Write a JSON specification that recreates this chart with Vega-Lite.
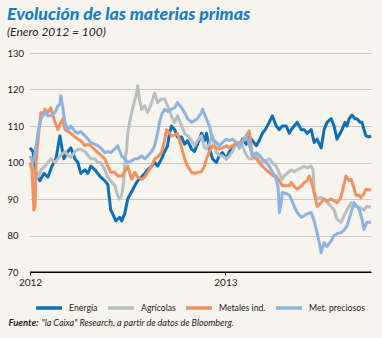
{
"$schema": "https://vega.github.io/schema/vega-lite/v6.json",
"width": 341, "height": 219,
"autosize": "none",
"padding": {"left": 30, "top": 53, "right": 11, "bottom": 66},
"background": "#f7f4ed",
"config": {"view": {"stroke": null}, "font": "Lato"},
"title": {"text": "Evolución de las materias primas", "subtitle": "(Enero 2012 = 100)", "anchor": "start", "frame": "bounds", "offset": 10, "font": "Lato", "fontSize": 17.7, "fontWeight": 900, "fontStyle": "italic", "color": "#1a7fc5", "subtitleFont": "Lato", "subtitleFontSize": 12, "subtitleFontStyle": "italic", "subtitleColor": "#222222", "subtitlePadding": 3},
"layer": [
{
"data": {"values": [
{"serie":"Energía","t":2012.000,"v":104},{"serie":"Energía","t":2012.015,"v":103},{"serie":"Energía","t":2012.031,"v":97},{"serie":"Energía","t":2012.051,"v":95},{"serie":"Energía","t":2012.071,"v":97},{"serie":"Energía","t":2012.092,"v":96},{"serie":"Energía","t":2012.112,"v":99},{"serie":"Energía","t":2012.133,"v":101},{"serie":"Energía","t":2012.153,"v":107.3},{"serie":"Energía","t":2012.173,"v":101},{"serie":"Energía","t":2012.194,"v":103},{"serie":"Energía","t":2012.209,"v":104},{"serie":"Energía","t":2012.230,"v":101},{"serie":"Energía","t":2012.245,"v":100},{"serie":"Energía","t":2012.260,"v":97},{"serie":"Energía","t":2012.281,"v":98},{"serie":"Energía","t":2012.296,"v":97},{"serie":"Energía","t":2012.311,"v":99},{"serie":"Energía","t":2012.332,"v":98},{"serie":"Energía","t":2012.347,"v":97},{"serie":"Energía","t":2012.362,"v":96},{"serie":"Energía","t":2012.383,"v":95},{"serie":"Energía","t":2012.398,"v":94},{"serie":"Energía","t":2012.413,"v":87},{"serie":"Energía","t":2012.423,"v":86},{"serie":"Energía","t":2012.439,"v":84},{"serie":"Energía","t":2012.459,"v":85},{"serie":"Energía","t":2012.469,"v":84},{"serie":"Energía","t":2012.485,"v":86},{"serie":"Energía","t":2012.500,"v":90},{"serie":"Energía","t":2012.520,"v":92},{"serie":"Energía","t":2012.536,"v":93.6},{"serie":"Energía","t":2012.551,"v":95},{"serie":"Energía","t":2012.571,"v":96},{"serie":"Energía","t":2012.587,"v":97},{"serie":"Energía","t":2012.602,"v":98},{"serie":"Energía","t":2012.622,"v":99},{"serie":"Energía","t":2012.638,"v":100},{"serie":"Energía","t":2012.653,"v":99},{"serie":"Energía","t":2012.673,"v":101},{"serie":"Energía","t":2012.689,"v":103},{"serie":"Energía","t":2012.704,"v":104.6},{"serie":"Energía","t":2012.714,"v":108},{"serie":"Energía","t":2012.724,"v":110},{"serie":"Energía","t":2012.740,"v":109},{"serie":"Energía","t":2012.755,"v":107},{"serie":"Energía","t":2012.776,"v":107},{"serie":"Energía","t":2012.791,"v":105},{"serie":"Energía","t":2012.806,"v":106},{"serie":"Energía","t":2012.827,"v":103.7},{"serie":"Energía","t":2012.842,"v":103},{"serie":"Energía","t":2012.857,"v":105},{"serie":"Energía","t":2012.878,"v":108},{"serie":"Energía","t":2012.893,"v":106},{"serie":"Energía","t":2012.903,"v":108},{"serie":"Energía","t":2012.918,"v":104},{"serie":"Energía","t":2012.934,"v":101},{"serie":"Energía","t":2012.954,"v":100},{"serie":"Energía","t":2012.969,"v":102},{"serie":"Energía","t":2012.985,"v":102.7},{"serie":"Energía","t":2013.005,"v":101},{"serie":"Energía","t":2013.020,"v":103},{"serie":"Energía","t":2013.036,"v":104},{"serie":"Energía","t":2013.056,"v":105.5},{"serie":"Energía","t":2013.071,"v":104},{"serie":"Energía","t":2013.087,"v":106.4},{"serie":"Energía","t":2013.107,"v":105},{"serie":"Energía","t":2013.122,"v":107},{"serie":"Energía","t":2013.138,"v":106},{"serie":"Energía","t":2013.158,"v":104.6},{"serie":"Energía","t":2013.173,"v":106},{"serie":"Energía","t":2013.189,"v":108},{"serie":"Energía","t":2013.204,"v":109},{"serie":"Energía","t":2013.224,"v":111},{"serie":"Energía","t":2013.240,"v":112.8},{"serie":"Energía","t":2013.260,"v":110},{"serie":"Energía","t":2013.276,"v":109},{"serie":"Energía","t":2013.291,"v":110},{"serie":"Energía","t":2013.311,"v":110},{"serie":"Energía","t":2013.327,"v":108},{"serie":"Energía","t":2013.337,"v":109},{"serie":"Energía","t":2013.352,"v":110},{"serie":"Energía","t":2013.367,"v":111},{"serie":"Energía","t":2013.388,"v":109},{"serie":"Energía","t":2013.403,"v":109},{"serie":"Energía","t":2013.418,"v":108},{"serie":"Energía","t":2013.439,"v":109},{"serie":"Energía","t":2013.454,"v":105.5},{"serie":"Energía","t":2013.469,"v":106.4},{"serie":"Energía","t":2013.490,"v":104},{"serie":"Energía","t":2013.505,"v":109},{"serie":"Energía","t":2013.520,"v":111},{"serie":"Energía","t":2013.541,"v":112},{"serie":"Energía","t":2013.556,"v":110},{"serie":"Energía","t":2013.571,"v":106.4},{"serie":"Energía","t":2013.587,"v":108},{"serie":"Energía","t":2013.597,"v":109},{"serie":"Energía","t":2013.612,"v":111},{"serie":"Energía","t":2013.622,"v":110},{"serie":"Energía","t":2013.633,"v":112},{"serie":"Energía","t":2013.648,"v":113},{"serie":"Energía","t":2013.663,"v":112},{"serie":"Energía","t":2013.673,"v":112},{"serie":"Energía","t":2013.689,"v":111},{"serie":"Energía","t":2013.699,"v":111},{"serie":"Energía","t":2013.709,"v":109},{"serie":"Energía","t":2013.719,"v":107.3},{"serie":"Energía","t":2013.735,"v":107},{"serie":"Energía","t":2013.745,"v":107.3},
{"serie":"Agrícolas","t":2012.000,"v":100},{"serie":"Agrícolas","t":2012.015,"v":98},{"serie":"Agrícolas","t":2012.031,"v":97},{"serie":"Agrícolas","t":2012.041,"v":96},{"serie":"Agrícolas","t":2012.056,"v":98},{"serie":"Agrícolas","t":2012.077,"v":99},{"serie":"Agrícolas","t":2012.092,"v":100},{"serie":"Agrícolas","t":2012.107,"v":101},{"serie":"Agrícolas","t":2012.128,"v":100},{"serie":"Agrícolas","t":2012.143,"v":101},{"serie":"Agrícolas","t":2012.158,"v":102},{"serie":"Agrícolas","t":2012.179,"v":103},{"serie":"Agrícolas","t":2012.194,"v":102},{"serie":"Agrícolas","t":2012.209,"v":101.4},{"serie":"Agrícolas","t":2012.230,"v":103},{"serie":"Agrícolas","t":2012.245,"v":103.6},{"serie":"Agrícolas","t":2012.260,"v":103.6},{"serie":"Agrícolas","t":2012.281,"v":103},{"serie":"Agrícolas","t":2012.296,"v":102},{"serie":"Agrícolas","t":2012.311,"v":101},{"serie":"Agrícolas","t":2012.332,"v":101},{"serie":"Agrícolas","t":2012.347,"v":100},{"serie":"Agrícolas","t":2012.362,"v":100},{"serie":"Agrícolas","t":2012.383,"v":98},{"serie":"Agrícolas","t":2012.398,"v":96},{"serie":"Agrícolas","t":2012.413,"v":95},{"serie":"Agrícolas","t":2012.434,"v":93.6},{"serie":"Agrícolas","t":2012.449,"v":91},{"serie":"Agrícolas","t":2012.459,"v":90},{"serie":"Agrícolas","t":2012.469,"v":91},{"serie":"Agrícolas","t":2012.480,"v":95},{"serie":"Agrícolas","t":2012.485,"v":100},{"serie":"Agrícolas","t":2012.495,"v":104},{"serie":"Agrícolas","t":2012.500,"v":108},{"serie":"Agrícolas","t":2012.510,"v":111},{"serie":"Agrícolas","t":2012.520,"v":113.7},{"serie":"Agrícolas","t":2012.536,"v":117},{"serie":"Agrícolas","t":2012.546,"v":119},{"serie":"Agrícolas","t":2012.551,"v":121},{"serie":"Agrícolas","t":2012.561,"v":117},{"serie":"Agrícolas","t":2012.571,"v":114.6},{"serie":"Agrícolas","t":2012.587,"v":115.5},{"serie":"Agrícolas","t":2012.602,"v":113.7},{"serie":"Agrícolas","t":2012.612,"v":115},{"serie":"Agrícolas","t":2012.622,"v":116.4},{"serie":"Agrícolas","t":2012.638,"v":119},{"serie":"Agrícolas","t":2012.653,"v":116.4},{"serie":"Agrícolas","t":2012.663,"v":117},{"serie":"Agrícolas","t":2012.673,"v":117.4},{"serie":"Agrícolas","t":2012.689,"v":117.4},{"serie":"Agrícolas","t":2012.704,"v":115.5},{"serie":"Agrícolas","t":2012.724,"v":112.8},{"serie":"Agrícolas","t":2012.740,"v":111},{"serie":"Agrícolas","t":2012.755,"v":112.8},{"serie":"Agrícolas","t":2012.776,"v":110},{"serie":"Agrícolas","t":2012.791,"v":108},{"serie":"Agrícolas","t":2012.806,"v":107.3},{"serie":"Agrícolas","t":2012.827,"v":106},{"serie":"Agrícolas","t":2012.842,"v":104.6},{"serie":"Agrícolas","t":2012.857,"v":106},{"serie":"Agrícolas","t":2012.878,"v":107.3},{"serie":"Agrícolas","t":2012.893,"v":104},{"serie":"Agrícolas","t":2012.903,"v":103.7},{"serie":"Agrícolas","t":2012.918,"v":105},{"serie":"Agrícolas","t":2012.934,"v":107.3},{"serie":"Agrícolas","t":2012.954,"v":102.7},{"serie":"Agrícolas","t":2012.969,"v":102},{"serie":"Agrícolas","t":2012.985,"v":101.8},{"serie":"Agrícolas","t":2013.005,"v":101},{"serie":"Agrícolas","t":2013.020,"v":101.8},{"serie":"Agrícolas","t":2013.036,"v":103},{"serie":"Agrícolas","t":2013.056,"v":105.5},{"serie":"Agrícolas","t":2013.071,"v":104},{"serie":"Agrícolas","t":2013.087,"v":104.6},{"serie":"Agrícolas","t":2013.107,"v":102},{"serie":"Agrícolas","t":2013.122,"v":101},{"serie":"Agrícolas","t":2013.138,"v":101},{"serie":"Agrícolas","t":2013.158,"v":101.8},{"serie":"Agrícolas","t":2013.173,"v":100.5},{"serie":"Agrícolas","t":2013.189,"v":100},{"serie":"Agrícolas","t":2013.209,"v":100.5},{"serie":"Agrícolas","t":2013.224,"v":101},{"serie":"Agrícolas","t":2013.240,"v":100},{"serie":"Agrícolas","t":2013.260,"v":99},{"serie":"Agrícolas","t":2013.276,"v":97},{"serie":"Agrícolas","t":2013.291,"v":95.4},{"serie":"Agrícolas","t":2013.301,"v":96.3},{"serie":"Agrícolas","t":2013.316,"v":97},{"serie":"Agrícolas","t":2013.337,"v":98},{"serie":"Agrícolas","t":2013.352,"v":97.5},{"serie":"Agrícolas","t":2013.367,"v":98},{"serie":"Agrícolas","t":2013.388,"v":98.5},{"serie":"Agrícolas","t":2013.403,"v":99},{"serie":"Agrícolas","t":2013.418,"v":98.5},{"serie":"Agrícolas","t":2013.439,"v":99},{"serie":"Agrícolas","t":2013.449,"v":98},{"serie":"Agrícolas","t":2013.454,"v":91.8},{"serie":"Agrícolas","t":2013.469,"v":90},{"serie":"Agrícolas","t":2013.490,"v":90.5},{"serie":"Agrícolas","t":2013.505,"v":90},{"serie":"Agrícolas","t":2013.520,"v":89},{"serie":"Agrícolas","t":2013.541,"v":88},{"serie":"Agrícolas","t":2013.556,"v":87},{"serie":"Agrícolas","t":2013.571,"v":84.5},{"serie":"Agrícolas","t":2013.592,"v":83.6},{"serie":"Agrícolas","t":2013.607,"v":85.4},{"serie":"Agrícolas","t":2013.622,"v":87},{"serie":"Agrícolas","t":2013.643,"v":89},{"serie":"Agrícolas","t":2013.658,"v":88},{"serie":"Agrícolas","t":2013.673,"v":88},{"serie":"Agrícolas","t":2013.694,"v":87.5},{"serie":"Agrícolas","t":2013.709,"v":87},{"serie":"Agrícolas","t":2013.724,"v":88},{"serie":"Agrícolas","t":2013.745,"v":87.7},
{"serie":"Metales ind.","t":2012.000,"v":100},{"serie":"Metales ind.","t":2012.010,"v":98},{"serie":"Metales ind.","t":2012.020,"v":87},{"serie":"Metales ind.","t":2012.026,"v":88},{"serie":"Metales ind.","t":2012.031,"v":100},{"serie":"Metales ind.","t":2012.041,"v":106},{"serie":"Metales ind.","t":2012.056,"v":113.7},{"serie":"Metales ind.","t":2012.066,"v":113},{"serie":"Metales ind.","t":2012.077,"v":114.6},{"serie":"Metales ind.","t":2012.092,"v":113.7},{"serie":"Metales ind.","t":2012.107,"v":115},{"serie":"Metales ind.","t":2012.117,"v":113},{"serie":"Metales ind.","t":2012.128,"v":111},{"serie":"Metales ind.","t":2012.143,"v":109},{"serie":"Metales ind.","t":2012.158,"v":111},{"serie":"Metales ind.","t":2012.168,"v":112},{"serie":"Metales ind.","t":2012.179,"v":109},{"serie":"Metales ind.","t":2012.194,"v":108.5},{"serie":"Metales ind.","t":2012.209,"v":108},{"serie":"Metales ind.","t":2012.230,"v":107},{"serie":"Metales ind.","t":2012.245,"v":106.4},{"serie":"Metales ind.","t":2012.260,"v":106},{"serie":"Metales ind.","t":2012.281,"v":104.6},{"serie":"Metales ind.","t":2012.296,"v":105},{"serie":"Metales ind.","t":2012.311,"v":104.6},{"serie":"Metales ind.","t":2012.332,"v":103.5},{"serie":"Metales ind.","t":2012.347,"v":102.7},{"serie":"Metales ind.","t":2012.362,"v":102},{"serie":"Metales ind.","t":2012.383,"v":101},{"serie":"Metales ind.","t":2012.398,"v":99},{"serie":"Metales ind.","t":2012.413,"v":97.3},{"serie":"Metales ind.","t":2012.434,"v":97.3},{"serie":"Metales ind.","t":2012.449,"v":96.3},{"serie":"Metales ind.","t":2012.469,"v":96.3},{"serie":"Metales ind.","t":2012.485,"v":97.5},{"serie":"Metales ind.","t":2012.500,"v":99},{"serie":"Metales ind.","t":2012.520,"v":95.4},{"serie":"Metales ind.","t":2012.536,"v":97.3},{"serie":"Metales ind.","t":2012.551,"v":96},{"serie":"Metales ind.","t":2012.571,"v":95.4},{"serie":"Metales ind.","t":2012.587,"v":96},{"serie":"Metales ind.","t":2012.602,"v":97.3},{"serie":"Metales ind.","t":2012.622,"v":99},{"serie":"Metales ind.","t":2012.638,"v":101},{"serie":"Metales ind.","t":2012.653,"v":101.5},{"serie":"Metales ind.","t":2012.673,"v":102.7},{"serie":"Metales ind.","t":2012.689,"v":106},{"serie":"Metales ind.","t":2012.699,"v":109},{"serie":"Metales ind.","t":2012.714,"v":108},{"serie":"Metales ind.","t":2012.724,"v":107.3},{"serie":"Metales ind.","t":2012.740,"v":107.5},{"serie":"Metales ind.","t":2012.755,"v":108},{"serie":"Metales ind.","t":2012.776,"v":104},{"serie":"Metales ind.","t":2012.791,"v":101},{"serie":"Metales ind.","t":2012.806,"v":99},{"serie":"Metales ind.","t":2012.827,"v":97.3},{"serie":"Metales ind.","t":2012.842,"v":97},{"serie":"Metales ind.","t":2012.857,"v":97.3},{"serie":"Metales ind.","t":2012.878,"v":97.5},{"serie":"Metales ind.","t":2012.893,"v":99},{"serie":"Metales ind.","t":2012.903,"v":101},{"serie":"Metales ind.","t":2012.918,"v":103},{"serie":"Metales ind.","t":2012.934,"v":104.6},{"serie":"Metales ind.","t":2012.954,"v":104},{"serie":"Metales ind.","t":2012.969,"v":103.7},{"serie":"Metales ind.","t":2012.985,"v":104},{"serie":"Metales ind.","t":2013.005,"v":104.6},{"serie":"Metales ind.","t":2013.020,"v":104},{"serie":"Metales ind.","t":2013.036,"v":104.6},{"serie":"Metales ind.","t":2013.056,"v":105},{"serie":"Metales ind.","t":2013.071,"v":105.5},{"serie":"Metales ind.","t":2013.087,"v":106},{"serie":"Metales ind.","t":2013.107,"v":107.3},{"serie":"Metales ind.","t":2013.122,"v":108.7},{"serie":"Metales ind.","t":2013.138,"v":101.8},{"serie":"Metales ind.","t":2013.158,"v":101},{"serie":"Metales ind.","t":2013.173,"v":100},{"serie":"Metales ind.","t":2013.189,"v":99},{"serie":"Metales ind.","t":2013.209,"v":98},{"serie":"Metales ind.","t":2013.224,"v":97.3},{"serie":"Metales ind.","t":2013.240,"v":96.5},{"serie":"Metales ind.","t":2013.260,"v":96.3},{"serie":"Metales ind.","t":2013.276,"v":95},{"serie":"Metales ind.","t":2013.291,"v":93.6},{"serie":"Metales ind.","t":2013.311,"v":93.6},{"serie":"Metales ind.","t":2013.327,"v":93.6},{"serie":"Metales ind.","t":2013.337,"v":94.5},{"serie":"Metales ind.","t":2013.352,"v":93.5},{"serie":"Metales ind.","t":2013.367,"v":92.7},{"serie":"Metales ind.","t":2013.388,"v":93.5},{"serie":"Metales ind.","t":2013.403,"v":94.5},{"serie":"Metales ind.","t":2013.418,"v":95},{"serie":"Metales ind.","t":2013.429,"v":96.3},{"serie":"Metales ind.","t":2013.444,"v":94},{"serie":"Metales ind.","t":2013.454,"v":91.8},{"serie":"Metales ind.","t":2013.469,"v":88},{"serie":"Metales ind.","t":2013.490,"v":89},{"serie":"Metales ind.","t":2013.505,"v":90},{"serie":"Metales ind.","t":2013.520,"v":89.5},{"serie":"Metales ind.","t":2013.541,"v":90},{"serie":"Metales ind.","t":2013.556,"v":89.5},{"serie":"Metales ind.","t":2013.571,"v":89},{"serie":"Metales ind.","t":2013.587,"v":90},{"serie":"Metales ind.","t":2013.597,"v":91.8},{"serie":"Metales ind.","t":2013.607,"v":94},{"serie":"Metales ind.","t":2013.617,"v":96.3},{"serie":"Metales ind.","t":2013.633,"v":95},{"serie":"Metales ind.","t":2013.643,"v":95.4},{"serie":"Metales ind.","t":2013.658,"v":93},{"serie":"Metales ind.","t":2013.668,"v":91},{"serie":"Metales ind.","t":2013.684,"v":91},{"serie":"Metales ind.","t":2013.694,"v":90.4},{"serie":"Metales ind.","t":2013.709,"v":91.5},{"serie":"Metales ind.","t":2013.719,"v":92.7},{"serie":"Metales ind.","t":2013.735,"v":92.5},{"serie":"Metales ind.","t":2013.745,"v":92.7},
{"serie":"Met. preciosos","t":2012.000,"v":101.8},{"serie":"Met. preciosos","t":2012.015,"v":100},{"serie":"Met. preciosos","t":2012.026,"v":102.7},{"serie":"Met. preciosos","t":2012.041,"v":108},{"serie":"Met. preciosos","t":2012.056,"v":112},{"serie":"Met. preciosos","t":2012.077,"v":113.7},{"serie":"Met. preciosos","t":2012.092,"v":112.8},{"serie":"Met. preciosos","t":2012.107,"v":112.8},{"serie":"Met. preciosos","t":2012.128,"v":113.7},{"serie":"Met. preciosos","t":2012.143,"v":115.5},{"serie":"Met. preciosos","t":2012.153,"v":116},{"serie":"Met. preciosos","t":2012.158,"v":118.3},{"serie":"Met. preciosos","t":2012.168,"v":115},{"serie":"Met. preciosos","t":2012.179,"v":111},{"serie":"Met. preciosos","t":2012.194,"v":109},{"serie":"Met. preciosos","t":2012.209,"v":110},{"serie":"Met. preciosos","t":2012.230,"v":108.5},{"serie":"Met. preciosos","t":2012.245,"v":108},{"serie":"Met. preciosos","t":2012.260,"v":108.5},{"serie":"Met. preciosos","t":2012.281,"v":107.3},{"serie":"Met. preciosos","t":2012.296,"v":106.5},{"serie":"Met. preciosos","t":2012.311,"v":105.5},{"serie":"Met. preciosos","t":2012.332,"v":105},{"serie":"Met. preciosos","t":2012.347,"v":104.6},{"serie":"Met. preciosos","t":2012.362,"v":104},{"serie":"Met. preciosos","t":2012.383,"v":102.7},{"serie":"Met. preciosos","t":2012.398,"v":103},{"serie":"Met. preciosos","t":2012.413,"v":102.7},{"serie":"Met. preciosos","t":2012.434,"v":103.7},{"serie":"Met. preciosos","t":2012.449,"v":104.6},{"serie":"Met. preciosos","t":2012.469,"v":101.8},{"serie":"Met. preciosos","t":2012.485,"v":101},{"serie":"Met. preciosos","t":2012.500,"v":100},{"serie":"Met. preciosos","t":2012.520,"v":100.5},{"serie":"Met. preciosos","t":2012.536,"v":101},{"serie":"Met. preciosos","t":2012.551,"v":101},{"serie":"Met. preciosos","t":2012.571,"v":101.8},{"serie":"Met. preciosos","t":2012.587,"v":101},{"serie":"Met. preciosos","t":2012.602,"v":101.8},{"serie":"Met. preciosos","t":2012.622,"v":103},{"serie":"Met. preciosos","t":2012.638,"v":104.6},{"serie":"Met. preciosos","t":2012.653,"v":108},{"serie":"Met. preciosos","t":2012.663,"v":111},{"serie":"Met. preciosos","t":2012.673,"v":113},{"serie":"Met. preciosos","t":2012.689,"v":114.6},{"serie":"Met. preciosos","t":2012.704,"v":114},{"serie":"Met. preciosos","t":2012.724,"v":114.6},{"serie":"Met. preciosos","t":2012.740,"v":115},{"serie":"Met. preciosos","t":2012.755,"v":116.4},{"serie":"Met. preciosos","t":2012.776,"v":115},{"serie":"Met. preciosos","t":2012.791,"v":113.7},{"serie":"Met. preciosos","t":2012.806,"v":112},{"serie":"Met. preciosos","t":2012.827,"v":111},{"serie":"Met. preciosos","t":2012.842,"v":111.5},{"serie":"Met. preciosos","t":2012.857,"v":112},{"serie":"Met. preciosos","t":2012.878,"v":113.7},{"serie":"Met. preciosos","t":2012.883,"v":114.6},{"serie":"Met. preciosos","t":2012.903,"v":112},{"serie":"Met. preciosos","t":2012.918,"v":110},{"serie":"Met. preciosos","t":2012.934,"v":106.4},{"serie":"Met. preciosos","t":2012.954,"v":105.5},{"serie":"Met. preciosos","t":2012.969,"v":104.6},{"serie":"Met. preciosos","t":2012.985,"v":105.5},{"serie":"Met. preciosos","t":2013.005,"v":106.4},{"serie":"Met. preciosos","t":2013.020,"v":106},{"serie":"Met. preciosos","t":2013.036,"v":106.4},{"serie":"Met. preciosos","t":2013.056,"v":105.5},{"serie":"Met. preciosos","t":2013.071,"v":104.6},{"serie":"Met. preciosos","t":2013.087,"v":105.5},{"serie":"Met. preciosos","t":2013.107,"v":107.3},{"serie":"Met. preciosos","t":2013.122,"v":105},{"serie":"Met. preciosos","t":2013.138,"v":101.8},{"serie":"Met. preciosos","t":2013.158,"v":102.7},{"serie":"Met. preciosos","t":2013.173,"v":102},{"serie":"Met. preciosos","t":2013.189,"v":101},{"serie":"Met. preciosos","t":2013.209,"v":100},{"serie":"Met. preciosos","t":2013.224,"v":99},{"serie":"Met. preciosos","t":2013.240,"v":97.5},{"serie":"Met. preciosos","t":2013.260,"v":95.4},{"serie":"Met. preciosos","t":2013.270,"v":93},{"serie":"Met. preciosos","t":2013.276,"v":86.3},{"serie":"Met. preciosos","t":2013.286,"v":89},{"serie":"Met. preciosos","t":2013.291,"v":91.8},{"serie":"Met. preciosos","t":2013.311,"v":91.5},{"serie":"Met. preciosos","t":2013.327,"v":91},{"serie":"Met. preciosos","t":2013.337,"v":90},{"serie":"Met. preciosos","t":2013.352,"v":88},{"serie":"Met. preciosos","t":2013.367,"v":86.3},{"serie":"Met. preciosos","t":2013.388,"v":85},{"serie":"Met. preciosos","t":2013.403,"v":85.4},{"serie":"Met. preciosos","t":2013.418,"v":86},{"serie":"Met. preciosos","t":2013.439,"v":86.3},{"serie":"Met. preciosos","t":2013.454,"v":84},{"serie":"Met. preciosos","t":2013.469,"v":80.8},{"serie":"Met. preciosos","t":2013.480,"v":78},{"serie":"Met. preciosos","t":2013.490,"v":75.3},{"serie":"Met. preciosos","t":2013.505,"v":78},{"serie":"Met. preciosos","t":2013.520,"v":77},{"serie":"Met. preciosos","t":2013.541,"v":78.5},{"serie":"Met. preciosos","t":2013.556,"v":80},{"serie":"Met. preciosos","t":2013.571,"v":80.5},{"serie":"Met. preciosos","t":2013.592,"v":80.8},{"serie":"Met. preciosos","t":2013.607,"v":81.5},{"serie":"Met. preciosos","t":2013.622,"v":82.6},{"serie":"Met. preciosos","t":2013.643,"v":86.3},{"serie":"Met. preciosos","t":2013.658,"v":89},{"serie":"Met. preciosos","t":2013.673,"v":88},{"serie":"Met. preciosos","t":2013.684,"v":87.2},{"serie":"Met. preciosos","t":2013.699,"v":84.5},{"serie":"Met. preciosos","t":2013.709,"v":81.7},{"serie":"Met. preciosos","t":2013.724,"v":83.6},{"serie":"Met. preciosos","t":2013.745,"v":83.6}
]},
"mark": {"type": "line", "strokeWidth": 3, "strokeJoin": "round"},
"encoding": {
"x": {"field": "t", "type": "quantitative", "scale": {"domain": [2012, 2013.745], "nice": false, "zero": false},
 "axis": {"orient": "bottom", "values": [2012, 2013], "format": "d", "grid": false, "labelFlush": false, "domainColor": "#000000", "domainWidth": 1, "tickColor": "#000000", "tickSize": 3, "labelFontSize": 10, "labelColor": "#222222", "labelPadding": 2,
  "title": "Fuente:", "titleFont": "Lato", "titleFontSize": 9.5, "titleFontWeight": "bold", "titleFontStyle": "italic", "titleColor": "#222222", "titleAlign": "left", "titleAnchor": "start", "titleX": -22, "titleY": 53, "titleBaseline": "alphabetic"}},
"y": {"field": "v", "type": "quantitative", "scale": {"domain": [70, 130], "nice": false, "zero": false},
 "axis": {"values": [70, 80, 90, 100, 110, 120, 130], "title": null, "domain": false, "ticks": false, "tickSize": 0, "labelAlign": "left", "labelPadding": 23, "labelFontSize": 9.5, "labelColor": "#222222", "gridColor": "#c8c8c8", "gridWidth": 1}},
"color": {"field": "serie", "type": "nominal",
 "scale": {"domain": ["Energía", "Agrícolas", "Metales ind.", "Met. preciosos"], "range": ["#0c6fb8", "#b5bfc4", "#f2915f", "#8db3e2"]},
 "legend": {"orient": "none", "legendX": 4, "legendY": 240, "direction": "horizontal", "title": null, "symbolType": "stroke", "symbolSize": 676, "symbolStrokeWidth": 3.5, "labelFont": "Lato", "labelFontSize": 8.7, "labelColor": "#222222", "labelOffset": 5, "columnPadding": 3, "padding": 0}}
}
},
{
"data": {"values": [{}]},
"mark": {"type": "rule", "color": "#000000", "strokeWidth": 1},
"encoding": {
"x": {"datum": 2012, "type": "quantitative",
 "axis": {"orient": "bottom", "domain": false, "ticks": false, "labels": false, "grid": false,
  "title": "\"la Caixa\" Research, a partir de datos de Bloomberg.", "titleFont": "Lato", "titleFontSize": 9, "titleFontWeight": "normal", "titleFontStyle": "italic", "titleColor": "#222222", "titleAlign": "left", "titleAnchor": "start", "titleX": 11, "titleY": 53, "titleBaseline": "alphabetic"}},
"x2": {"datum": 2013.745},
"y": {"datum": 70, "type": "quantitative", "axis": {"values": [70, 80, 90, 100, 110, 120, 130], "title": null, "domain": false, "ticks": false, "tickSize": 0, "labelAlign": "left", "labelPadding": 23, "labelFontSize": 9.5, "labelColor": "#222222", "gridColor": "#c8c8c8", "gridWidth": 1}}
}
}
],
"resolve": {"axis": {"x": "independent"}}
}
